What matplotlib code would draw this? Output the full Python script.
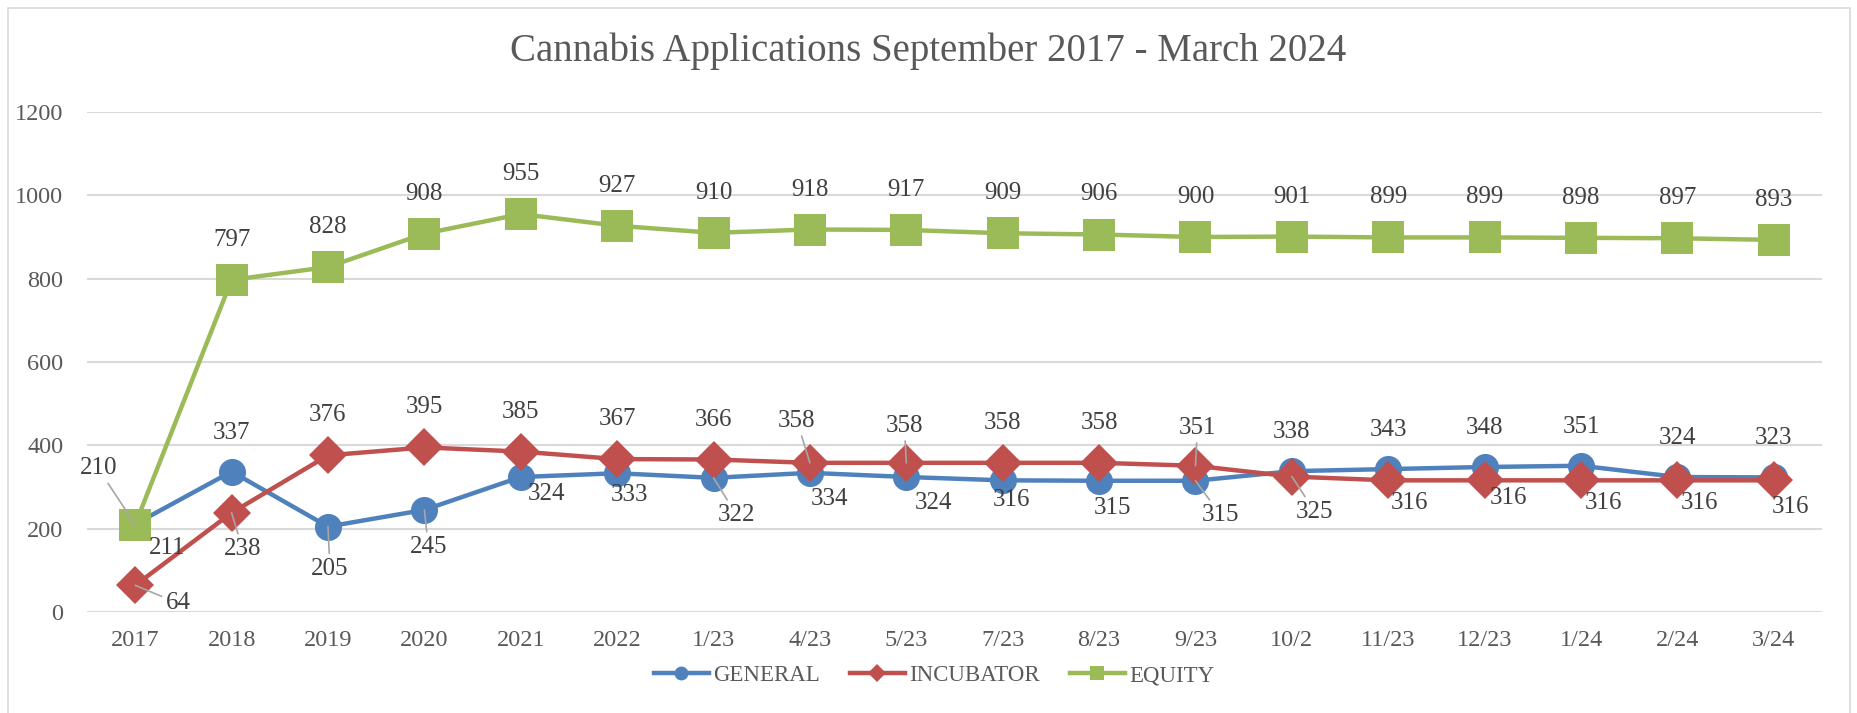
import matplotlib.pyplot as plt
from matplotlib.lines import Line2D
from matplotlib.patches import Rectangle
import numpy as np

plt.rcParams['font.family'] = ['Liberation Serif', 'DejaVu Serif']

periods = ['2017', '2018', '2019', '2020', '2021', '2022', '1/23', '4/23', '5/23',
           '7/23', '8/23', '9/23', '10/2', '11/23', '12/23', '1/24', '2/24', '3/24']
general = [211, 337, 205, 245, 324, 333, 322, 334, 324, 316, 315, 315, 338, 343, 348, 351, 324, 323]
incubator = [64, 238, 376, 395, 385, 367, 366, 358, 358, 358, 358, 351, 325, 316, 316, 316, 316, 316]
equity = [210, 797, 828, 908, 955, 927, 910, 918, 917, 909, 906, 900, 901, 899, 899, 898, 897, 893]

# label placement (pixel offsets from the point, +y = down)
above = (0, -39)
gen_off = [(32, 24), above, (2, 42), (4, 37), (26, 17), (12, 22), (23, 37), (20, 26), (27, 26),
           (9, 20), (13, 27), (25, 34), above, above, above, above, above, above]
gen_lead = [2, 3, 6, 11]
inc_off = [(43, 18), (11, 36), (0, -40), (0, -40), (0, -40), (0, -40), (0, -40), (-13, -42), (-2, -37),
           (0, -40), (0, -40), (2, -38), (23, 35), (21, 23), (24, 18), (22, 23), (22, 23), (17, 27)]
inc_lead = [0, 1, 7, 8, 11, 12]
eq_off = [(-37, -56)] + [(0, -40)] * 17
eq_lead = [0]

BLUE = '#4F81BD'
RED = '#C0504D'
GREEN = '#9BBB59'
GRID = '#d9d9d9'
TXT = '#595959'
LBL = '#404040'

fig = plt.figure(figsize=(18.57, 7.13), dpi=100)
ax = fig.add_axes([87 / 1857, 1 - 612 / 713, (1822 - 87) / 1857, (612 - 112) / 713])

x = np.arange(len(periods))
ax.plot(x, general, color=BLUE, lw=3.2, marker='o', ms=19.5, mew=0, zorder=3)
ax.plot(x, incubator, color=RED, lw=3.2, marker='D', ms=19, mew=0, zorder=4)
ax.plot(x, equity, color=GREEN, lw=3.2, marker='s', ms=23.5, mew=0, zorder=5)


def add_labels(vals, offs, leads):
    for i, v in enumerate(vals):
        dx, dy = offs[i]
        kw = {}
        if i in leads:
            kw['arrowprops'] = dict(arrowstyle='-', color='#a6a6a6', lw=1.2,
                                    shrinkA=1, shrinkB=0)
        ax.annotate(str(v), (x[i], v), xytext=(dx, -dy), textcoords='offset pixels',
                    ha='center', va='center', fontsize=18, color=LBL, zorder=6, **kw)


add_labels(general, gen_off, gen_lead)
add_labels(incubator, inc_off, inc_lead)
add_labels(equity, eq_off, eq_lead)

ax.set_xlim(-0.5, len(periods) - 0.5)
ax.set_ylim(0, 1200)
ax.set_yticks(range(0, 1201, 200))
ax.set_xticks(x)
ax.set_xticklabels(periods)
ax.tick_params(axis='both', length=0, labelsize=17.5, labelcolor=TXT)
ax.tick_params(axis='y', pad=17)
ax.tick_params(axis='x', pad=13)
ax.grid(axis='y', color=GRID, lw=1.5)
ax.set_axisbelow(True)
for s in ax.spines.values():
    s.set_visible(False)

fig.text(0.5, 0.928, 'Cannabis Applications September 2017 - March 2024',
         ha='center', va='center', fontsize=28, color=TXT)

handles = [Line2D([], [], color=BLUE, lw=3.2, marker='o', ms=10, mew=0),
           Line2D([], [], color=RED, lw=3.2, marker='D', ms=9.5, mew=0),
           Line2D([], [], color=GREEN, lw=3.2, marker='s', ms=10, mew=0)]
fig.legend(handles, ['GENERAL', 'INCUBATOR', 'EQUITY'], loc='center',
           bbox_to_anchor=(0.503, 0.052), ncol=3, frameon=False, fontsize=16.5,
           labelcolor=TXT, handlelength=2.4, handletextpad=0.2, columnspacing=1.3)

fig.patches.append(Rectangle((8 / 1857, -0.05), (1850 - 8) / 1857, 1.05 - 8 / 713,
                             transform=fig.transFigure, fill=False, ec=GRID, lw=1.2))

fig.savefig('out.png', dpi=100)
